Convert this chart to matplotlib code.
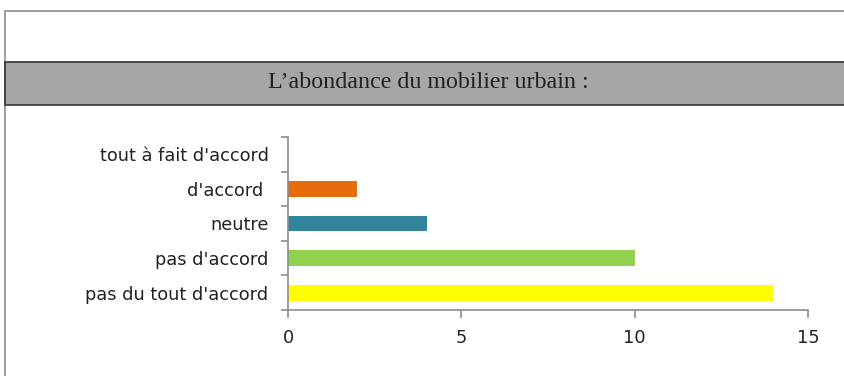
import matplotlib.pyplot as plt
from matplotlib.patches import Rectangle

# données
categories = ["pas du tout d'accord", "pas d'accord", "neutre", "d'accord ", "tout à fait d'accord"]
values = [14, 10, 4, 2, 0]
colors = ["#FFFF00", "#92D050", "#31849B", "#E46C0A", "#4F81BD"]
xticks = [0, 5, 10, 15]
title = "L\u2019abondance du mobilier urbain :"

W, H = 844, 376
fig = plt.figure(figsize=(W / 100, H / 100), dpi=100)


def fx(px):
    return px / W


def fy(py):
    return 1 - py / H


# cadre extérieur
fig.patches.append(Rectangle((fx(5), fy(400)), fx(900), fy(11) - fy(400),
                             transform=fig.transFigure, fill=False,
                             edgecolor="#8c8c8c", linewidth=1.2))
# bandeau gris du titre
fig.patches.append(Rectangle((fx(5), fy(105)), fx(900), fy(62) - fy(105),
                             transform=fig.transFigure, facecolor="#a6a6a6",
                             edgecolor="#333333", linewidth=1.2))
fig.text(fx(428), fy(83), title, ha="center", va="center",
         family="Liberation Serif", fontsize=17.3, color="#222222")

# graphique
ax = fig.add_axes([fx(288), fy(310), fx(808) - fx(288), fy(137) - fy(310)])
y = range(len(categories))
ax.barh(y, values, height=0.46, color=colors)

ax.set_xlim(0, 15)
ax.set_ylim(-0.5, len(categories) - 0.5)
ax.set_xticks(xticks)
ax.set_yticks(list(y))
ax.set_yticklabels(categories)
ax.set_yticks([i - 0.5 for i in range(len(categories) + 1)], minor=True)

for s in ["top", "right"]:
    ax.spines[s].set_visible(False)
for s in ["left", "bottom"]:
    ax.spines[s].set_color("#8c8c8c")
    ax.spines[s].set_linewidth(1.2)

ax.tick_params(axis="y", which="major", length=0, pad=14, labelsize=12.8,
               labelcolor="#222222")
ax.tick_params(axis="y", which="minor", length=5, color="#8c8c8c", width=1.2)
ax.tick_params(axis="x", length=6, color="#8c8c8c", width=1.2, pad=8,
               labelsize=12.8, labelcolor="#222222")
for lab in ax.get_xticklabels() + ax.get_yticklabels():
    lab.set_family("DejaVu Sans")

plt.savefig("out.png", dpi=100)
